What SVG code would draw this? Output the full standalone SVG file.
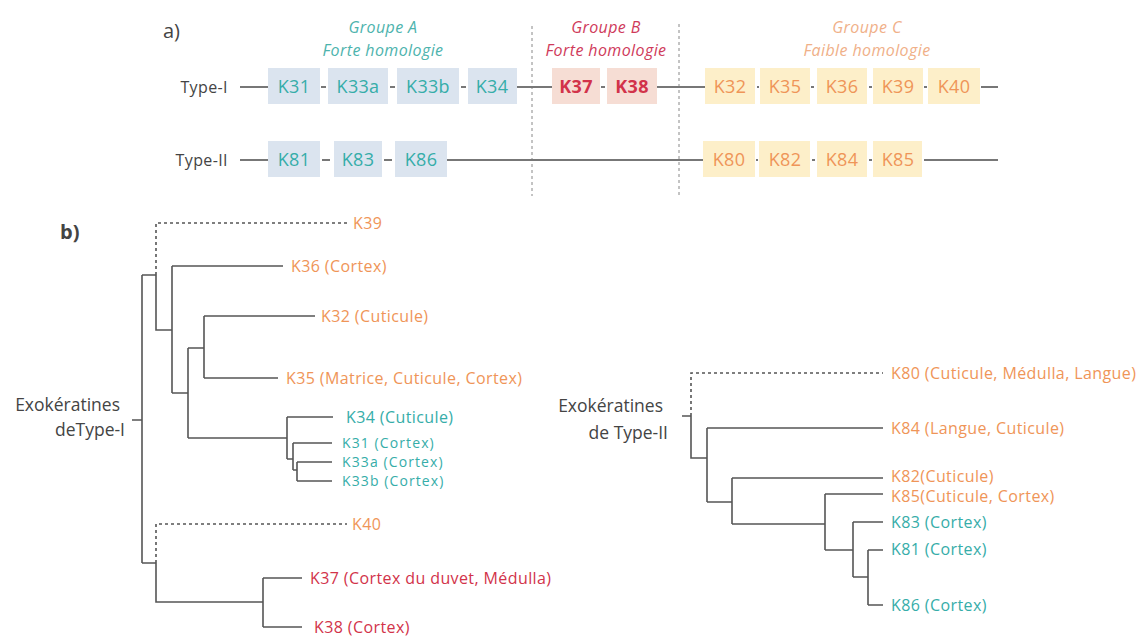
<svg xmlns="http://www.w3.org/2000/svg" width="1144" height="637" viewBox="0 0 1144 637">
<style>
text{font-family:"Open Sans","Noto Sans",sans-serif;dominant-baseline:central}
.lbl{font-size:16px;letter-spacing:0.4px}
.sm{font-size:14px;letter-spacing:1.1px}
.or{fill:#ef9558}.te{fill:#36ada9}.rd{fill:#d2334a}
.bx{font-size:18px;text-anchor:middle;letter-spacing:0.3px}
.row{stroke:#777;stroke-width:2;fill:none}
.tr{stroke:#555;stroke-width:1.6;fill:none}
.dsh{stroke:#555;stroke-width:1.6;fill:none;stroke-dasharray:3 3}
.sep{stroke:#888;stroke-width:1;stroke-dasharray:3 3}
.ga{fill:#dbe4ef}.gb{fill:#f6ddd4}.gc{fill:#fdefc9}
.tit{font-size:16px;font-style:italic;text-anchor:middle;letter-spacing:0.4px}
.dark{fill:#444}
</style>
<g id="part-a">
<text x="163" y="30" font-size="20" class="dark">a)</text>
<text x="383" y="27" class="tit" fill="#4db3ad">Groupe A</text>
<text x="383" y="50" class="tit" fill="#4db3ad">Forte homologie</text>
<text x="606" y="27" class="tit" fill="#cf3a5a">Groupe B</text>
<text x="606" y="50" class="tit" fill="#cf3a5a">Forte homologie</text>
<text x="867" y="27" class="tit" fill="#f0b088">Groupe C</text>
<text x="867" y="50" class="tit" fill="#f0b088">Faible homologie</text>
<line class="sep" x1="532" y1="26" x2="532" y2="196"/>
<line class="sep" x1="679" y1="24" x2="679" y2="196"/>
<text x="228" y="87" font-size="16" text-anchor="end" class="dark" letter-spacing="0.4">Type-I</text>
<text x="228" y="160" font-size="16" text-anchor="end" class="dark" letter-spacing="0.4">Type-II</text>
<path class="row" d="M240 87H268M321 87H326M390 87H395M461 87H466M517 87H552M601 87H605M657 87H705M757 87H759M811 87H814M869 87H872M924 87H927M981 87H998"/>
<path class="row" d="M240 160H268M322 160H330M384 160H392M447 160H703M756 160H758M812 160H815M869 160H872M924 160H998"/>
<g id="K31"><rect class="ga" x="268" y="68" width="52" height="36"/><text class="bx te" x="294" y="86">K31</text></g>
<g id="K33a"><rect class="ga" x="328" y="68" width="60" height="36"/><text class="bx te" x="358" y="86">K33a</text></g>
<g id="K33b"><rect class="ga" x="397" y="68" width="62" height="36"/><text class="bx te" x="428" y="86">K33b</text></g>
<g id="K34"><rect class="ga" x="468" y="68" width="49" height="36"/><text class="bx te" x="492" y="86">K34</text></g>
<g id="K37"><rect class="gb" x="552" y="68" width="48" height="36"/><text class="bx rd" x="576" y="86" font-weight="bold">K37</text></g>
<g id="K38"><rect class="gb" x="607" y="68" width="50" height="36"/><text class="bx rd" x="632" y="86" font-weight="bold">K38</text></g>
<g id="K32"><rect class="gc" x="705" y="68" width="50" height="36"/><text class="bx or" x="730" y="86">K32</text></g>
<g id="K35"><rect class="gc" x="760" y="68" width="50" height="36"/><text class="bx or" x="785" y="86">K35</text></g>
<g id="K36"><rect class="gc" x="817" y="68" width="50" height="36"/><text class="bx or" x="842" y="86">K36</text></g>
<g id="K39"><rect class="gc" x="873" y="68" width="50" height="36"/><text class="bx or" x="898" y="86">K39</text></g>
<g id="K40"><rect class="gc" x="928" y="68" width="52" height="36"/><text class="bx or" x="954" y="86">K40</text></g>
<g id="K81"><rect class="ga" x="268" y="141" width="52" height="36"/><text class="bx te" x="294" y="159">K81</text></g>
<g id="K83"><rect class="ga" x="334" y="141" width="48" height="36"/><text class="bx te" x="358" y="159">K83</text></g>
<g id="K86"><rect class="ga" x="395" y="141" width="52" height="36"/><text class="bx te" x="421" y="159">K86</text></g>
<g id="K80"><rect class="gc" x="703" y="141" width="52" height="36"/><text class="bx or" x="729" y="159">K80</text></g>
<g id="K82"><rect class="gc" x="759" y="141" width="51" height="36"/><text class="bx or" x="785" y="159">K82</text></g>
<g id="K84"><rect class="gc" x="817" y="141" width="50" height="36"/><text class="bx or" x="842" y="159">K84</text></g>
<g id="K85"><rect class="gc" x="873" y="141" width="49" height="36"/><text class="bx or" x="898" y="159">K85</text></g>
</g>
<g id="part-b">
<text x="60" y="231" font-size="20" font-weight="bold" class="dark">b)</text>
<g id="connectors">
<path class="tr" d="M132 420H142M142 275V563M142 275H156M156 275V330H172M172 266V393M172 266H283M172 393H188M188 348V438M188 348H204M204 316V378M204 316H315M204 378H278M188 438H287M287 417V459M287 417H333M287 459H293M293 443V470M293 443H332M293 470H297M297 462V481M297 462H332M297 481H332M142 563H156M156 563V602H263M263 578V627M263 578H302M263 627H302"/>
<path class="dsh" d="M156 275V223H348M156 563V524H347"/>
<path class="tr" d="M682 416H691M691 416V458H707M707 428V502M707 428H883M707 502H732M732 478V524M732 478H883M732 524H825M825 494V550M825 494H883M825 550H853M853 522V577M853 522H883M853 577H868M868 550V605M868 550H883M868 605H883"/>
<path class="dsh" d="M691 416V373H883"/>
</g>
<g id="root-I"><text x="120" y="404" font-size="17.5" text-anchor="end" class="dark">Exokératines</text><text x="125" y="429" font-size="17.5" text-anchor="end" class="dark">deType-I</text></g>
<g id="leaf-K39"><text class="lbl or" x="353" y="223">K39</text></g>
<g id="leaf-K36"><text class="lbl or" x="291" y="266">K36 (Cortex)</text></g>
<g id="leaf-K32"><text class="lbl or" x="321" y="316">K32 (Cuticule)</text></g>
<g id="leaf-K35"><text class="lbl or" x="286" y="378">K35 (Matrice, Cuticule, Cortex)</text></g>
<g id="leaf-K34"><text class="lbl te" x="346" y="417">K34 (Cuticule)</text></g>
<g id="leaf-K31"><text class="sm te" x="342" y="442">K31 (Cortex)</text></g>
<g id="leaf-K33a"><text class="sm te" x="342" y="461">K33a (Cortex)</text></g>
<g id="leaf-K33b"><text class="sm te" x="342" y="480">K33b (Cortex)</text></g>
<g id="leaf-K40"><text class="lbl or" x="352" y="524">K40</text></g>
<g id="leaf-K37"><text class="lbl rd" x="310" y="578">K37 (Cortex du duvet, Médulla)</text></g>
<g id="leaf-K38"><text class="lbl rd" x="314" y="627">K38 (Cortex)</text></g>
<g id="root-II"><text x="663" y="405" font-size="17.5" text-anchor="end" class="dark">Exokératines</text><text x="668" y="432" font-size="17.5" text-anchor="end" class="dark">de Type-II</text></g>
<g id="leaf-K80"><text class="lbl or" x="891" y="373">K80 (Cuticule, Médulla, Langue)</text></g>
<g id="leaf-K84"><text class="lbl or" x="891" y="428">K84 (Langue, Cuticule)</text></g>
<g id="leaf-K82"><text class="lbl or" x="891" y="476">K82(Cuticule)</text></g>
<g id="leaf-K85"><text class="lbl or" x="891" y="496">K85(Cuticule, Cortex)</text></g>
<g id="leaf-K83"><text class="lbl te" x="891" y="522">K83 (Cortex)</text></g>
<g id="leaf-K81"><text class="lbl te" x="891" y="549">K81 (Cortex)</text></g>
<g id="leaf-K86"><text class="lbl te" x="891" y="605">K86 (Cortex)</text></g>
</g>
</svg>
